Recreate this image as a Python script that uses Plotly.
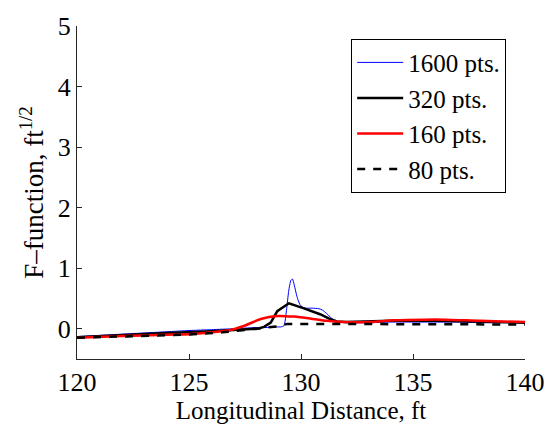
import plotly.graph_objects as go

# Longitudinal distance (ft) and F-function values for each grid resolution
x_1600 = [120, 121, 122, 123, 124, 125, 126, 127, 127.5, 128, 128.5, 128.9, 129.1, 129.24,
          129.35, 129.45, 129.55, 129.62, 129.7, 129.82, 129.95, 130.05, 130.2, 130.5, 130.8,
          130.95, 131.15, 131.37, 131.6, 132, 133, 134, 135, 136, 137, 138, 139, 140]
y_1600 = [-0.13, -0.11, -0.09, -0.07, -0.05, -0.03, -0.015, 0.0, 0.01, 0.02, 0.02, 0.03, 0.03, 0.05,
          0.3, 0.62, 0.8, 0.82, 0.72, 0.53, 0.4, 0.36, 0.34, 0.34, 0.33,
          0.31, 0.25, 0.17, 0.12, 0.1, 0.1, 0.11, 0.11, 0.11, 0.11, 0.1, 0.1, 0.1]

x_320 = [120, 122, 124, 126, 127, 128.06, 128.35, 128.65, 128.94, 129.46, 130.1, 130.85,
         131.3, 131.6, 132, 134, 136, 138, 140]
y_320 = [-0.14, -0.1, -0.07, -0.04, -0.02, 0.0, 0.03, 0.1, 0.29, 0.42, 0.34, 0.24,
         0.16, 0.12, 0.11, 0.13, 0.13, 0.12, 0.1]

x_160 = [120, 122, 124, 125, 126, 126.74, 127.48, 128.2, 128.94, 129.68, 130.4, 131.15,
         131.88, 133, 134.2, 135.5, 136.4, 138, 140]
y_160 = [-0.15, -0.12, -0.1, -0.09, -0.06, -0.03, 0.05, 0.16, 0.21, 0.2, 0.17, 0.13,
         0.11, 0.11, 0.14, 0.15, 0.15, 0.13, 0.11]

x_80 = [120, 122, 124, 125, 126.5, 127, 128, 128.5, 128.94, 129.4, 130, 131, 132, 134,
        136, 138, 140]
y_80 = [-0.15, -0.13, -0.11, -0.095, -0.06, -0.04, -0.01, 0.01, 0.04, 0.08, 0.08, 0.08, 0.08,
        0.075, 0.075, 0.07, 0.07]

x_ticks = [120, 125, 130, 135, 140]
y_ticks = [0, 1, 2, 3, 4, 5]

FONT = "Liberation Serif"

fig = go.Figure()
fig.add_trace(go.Scatter(x=x_1600, y=y_1600, mode="lines", name="1600 pts.",
                         line=dict(color="#0000ff", width=1, shape="spline", smoothing=0.6)))
fig.add_trace(go.Scatter(x=x_320, y=y_320, mode="lines", name="320 pts.",
                         line=dict(color="black", width=2.5)))
fig.add_trace(go.Scatter(x=x_160, y=y_160, mode="lines", name="160 pts.",
                         line=dict(color="#ff0000", width=2.5, shape="spline", smoothing=0.8)))
fig.add_trace(go.Scatter(x=x_80, y=y_80, mode="lines", name="80 pts.",
                         line=dict(color="black", width=2.5, dash="8px,8px")))

fig.update_layout(
    width=557, height=427,
    margin=dict(l=77, r=26, t=20, b=61),
    plot_bgcolor="white", paper_bgcolor="white",
    font=dict(family=FONT, size=26, color="black"),
    showlegend=True,
    legend=dict(x=0.958, y=0.962, xanchor="right", yanchor="top",
                bgcolor="white", bordercolor="black", borderwidth=1,
                font=dict(family=FONT, size=25, color="black"),
                tracegroupgap=0, itemwidth=46),
)
fig.update_xaxes(
    range=[120, 140], tickvals=x_ticks, ticktext=[str(v) for v in x_ticks],
    ticks="inside", ticklen=5, tickcolor="#262626",
    showline=True, linecolor="#262626", linewidth=1, mirror=False,
    showgrid=False, zeroline=False,
    title=dict(text="Longitudinal Distance, ft", font=dict(family=FONT, size=25), standoff=0),
)
fig.update_yaxes(
    range=[-0.5, 5], tickvals=y_ticks, ticktext=[str(v) for v in y_ticks],
    ticks="inside", ticklen=5, tickcolor="#262626",
    showline=True, linecolor="#262626", linewidth=1, mirror=False,
    showgrid=False, zeroline=False,
    title=dict(text="F\u2013function, ft<sup>1/2</sup>", font=dict(family=FONT, size=27), standoff=6),
)

fig.write_html("out.html")
